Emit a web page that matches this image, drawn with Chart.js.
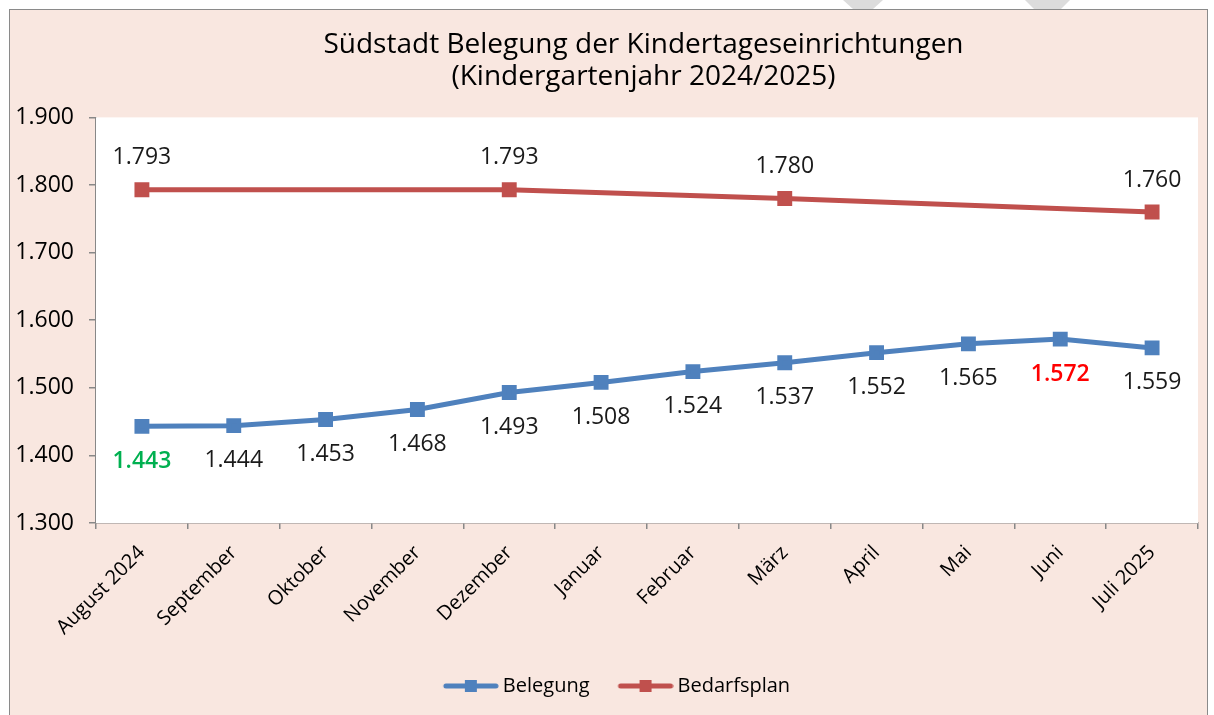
<!DOCTYPE html>
<html>
<head>
<meta charset="utf-8">
<script src="https://cdn.jsdelivr.net/npm/chart.js@4.4.1/dist/chart.umd.min.js"></script>
<style>
  html, body { margin: 0; padding: 0; background: #ffffff; width: 1214px; height: 715px; overflow: hidden; }
  #frame { position: absolute; left: 9px; top: 9px; width: 1199px; height: 720px; background: #F9E7E0; border: 1.5px solid #8a8a8a; box-sizing: border-box; }
  .wm { position: absolute; top: 0; height: 9px; background: #dcdcdc; }
  #wrap { position: absolute; left: 0; top: 0; width: 1214px; height: 715px; }
</style>
</head>
<body>
<div class="wm" style="left:843px;width:40px;clip-path:polygon(0 0,100% 0,75% 100%,25% 100%);"></div>
<div class="wm" style="left:1025px;width:45px;clip-path:polygon(0 0,100% 0,80% 100%,20% 100%);"></div>
<div id="frame"></div>
<div id="wrap"><canvas id="c" width="1214" height="715"></canvas></div>
<script>
const categories = ["August 2024","September","Oktober","November","Dezember","Januar","Februar","März","April","Mai","Juni","Juli 2025"];
const belegung = [1443,1444,1453,1468,1493,1508,1524,1537,1552,1565,1572,1559];
const bedarfsplan = [1793,null,null,null,1793,null,null,1780,null,null,null,1760];
const yTicks = [1300,1400,1500,1600,1700,1800,1900];
const titleLines = ["Südstadt Belegung der Kindertageseinrichtungen","(Kindergartenjahr 2024/2025)"];
const seriesNames = ["Belegung","Bedarfsplan"];

const BLUE = "#4F81BD", RED = "#C0504D";
const FONT = "'Open Sans', 'Noto Sans', sans-serif";

function fmt(v){
  const s = String(Math.round(v));
  return s.length > 3 ? s.slice(0, s.length-3) + "." + s.slice(-3) : s;
}

function legendImg(color){
  const c = document.createElement("canvas");
  c.width = 76; c.height = 16;
  const g = c.getContext("2d");
  g.strokeStyle = color; g.lineWidth = 5; g.lineCap = "round";
  g.beginPath(); g.moveTo(23, 8); g.lineTo(73, 8); g.stroke();
  g.fillStyle = color; g.fillRect(42, 2, 12, 12);
  return c;
}
const legendImgs = [legendImg(BLUE), legendImg(RED)];

const plotBg = {
  id: "plotBg",
  beforeDatasetsDraw(chart){
    const {ctx, chartArea:a} = chart;
    ctx.save(); ctx.fillStyle = "#ffffff";
    ctx.fillRect(a.left, a.top, a.right - a.left, a.bottom - a.top);
    ctx.restore();
  }
};

const shiftBoxes = {
  id: "shiftBoxes",
  afterLayout(chart){
    if (chart.legend) { chart.legend.left += 6; chart.legend.right += 6; }
    if (chart.titleBlock) { chart.titleBlock.left += 40; chart.titleBlock.right += 40; }
  }
};

const labelsPlugin = {
  id: "valueLabels",
  afterDatasetsDraw(chart){
    const ctx = chart.ctx;
    chart.data.datasets.forEach((ds, di) => {
      const meta = chart.getDatasetMeta(di);
      meta.data.forEach((pt, i) => {
        const v = ds.data[i];
        if (v === null || v === undefined) return;
        let color = "#1a1a1a", bold = false;
        if (di === 0 && i === 0) { color = "#00B050"; bold = true; }
        if (di === 0 && i === 10) { color = "#FF0000"; bold = true; }
        ctx.save();
        ctx.font = (bold ? "600 " : "") + "23px " + FONT;
        ctx.fillStyle = color;
        ctx.textAlign = "center";
        ctx.textBaseline = "middle";
        const dy = di === 0 ? 35 : -32;
        ctx.fillText(fmt(v), pt.x, pt.y + dy);
        ctx.restore();
      });
    });
  }
};

const chart = new Chart(document.getElementById("c"), {
  type: "line",
  data: {
    labels: categories,
    datasets: [
      { label: seriesNames[0], data: belegung, borderColor: BLUE, backgroundColor: BLUE,
        borderWidth: 5, pointStyle: "rect", pointRadius: 7, pointHoverRadius: 7,
        pointBackgroundColor: BLUE, pointBorderColor: BLUE, tension: 0 },
      { label: seriesNames[1], data: bedarfsplan, borderColor: RED, backgroundColor: RED,
        borderWidth: 5, pointStyle: "rect", pointRadius: 7, pointHoverRadius: 7,
        pointBackgroundColor: RED, pointBorderColor: RED, spanGaps: true, tension: 0 }
    ]
  },
  options: {
    responsive: false,
    animation: false,
    events: [],
    layout: { padding: { left: 9, right: 16, top: 0, bottom: 9 } },
    plugins: {
      title: {
        display: true, text: titleLines, color: "#000",
        font: { family: FONT, size: 28, weight: "500", lineHeight: 1.15 },
        padding: { top: 29, bottom: 24 }
      },
      legend: {
        position: "bottom",
        labels: {
          usePointStyle: true, pointStyleWidth: 64, boxHeight: 16,
          color: "#000", font: { family: FONT, size: 20 }, padding: 14,
          generateLabels(chart){
            return chart.data.datasets.map((ds, i) => ({
              text: ds.label, pointStyle: legendImgs[i], fillStyle: ds.borderColor,
              strokeStyle: ds.borderColor, lineWidth: 0, hidden: false, datasetIndex: i
            }));
          }
        }
      },
      tooltip: { enabled: false }
    },
    scales: {
      x: {
        offset: true,
        grid: { display: true, offset: true, drawOnChartArea: false, drawTicks: true, tickLength: 6, color: "#888", lineWidth: 1.5 },
        border: { display: true, color: "#888", width: 1.5 },
        ticks: { color: "#000", font: { family: FONT, size: 20 }, minRotation: 45, maxRotation: 45, padding: 12, autoSkip: false },
        afterFit(s){ s.height = 139; }
      },
      y: {
        min: 1300, max: 1900,
        afterBuildTicks(s){ s.ticks = yTicks.map(v => ({ value: v })); },
        grid: { display: true, drawOnChartArea: false, drawTicks: true, tickLength: 7, color: "#888", lineWidth: 1.5 },
        border: { display: true, color: "#888", width: 1.5 },
        ticks: { color: "#000", font: { family: FONT, size: 23 }, padding: 15, callback: v => fmt(v) },
        afterFit(s){ s.width = 87; }
      }
    }
  },
  plugins: [plotBg, shiftBoxes, labelsPlugin]
});
</script>
</body>
</html>
